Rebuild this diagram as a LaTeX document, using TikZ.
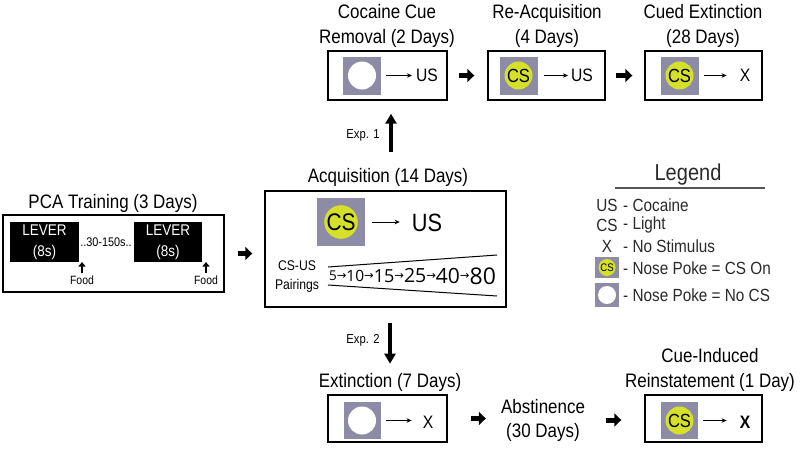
\documentclass[tikz,border=0pt]{standalone}
\usepackage{fontspec}
\setmainfont{Liberation Sans}[FakeStretch=0.87]
\newfontfamily\numf{Open Sans}
\newfontfamily\djv{DejaVu Sans}
\usetikzlibrary{arrows.meta}
\definecolor{pokegray}{HTML}{8D8BA6}
\definecolor{csyellow}{HTML}{D5E02A}
\definecolor{legtxt}{HTML}{2A2A2A}
\newcommand\fsz[1]{\fontsize{#1}{#1}\selectfont}
\newcommand\fszl[2]{\fontsize{#1}{#2}\selectfont}
\newcommand\vc[1]{$\vcenter{\hbox{#1}}$}
\newcommand\sarr{\vc{\djv\fsz{11.5}→}}
\newcommand\nm[2]{\vc{\numf\fsz{#1}#2}}
\begin{document}
\begin{tikzpicture}[x=1pt,y=-1pt,
  stagebox/.style={draw=black, line width=1.4pt, inner sep=0pt},
  txt/.style={inner sep=0pt, font=\fsz{18}},
  ttl/.style={inner sep=0pt, align=center, font=\fszl{19.5}{25}},
  pokesq/.style={fill=pokegray, inner sep=0pt, minimum width=#1, minimum height=#1},
  csdot/.style={circle, fill=csyellow, inner sep=0pt},
  nocs/.style={circle, fill=white, inner sep=0pt},
  leverbox/.style={fill=black, inner sep=0pt, minimum width=69pt, minimum height=40pt, text=white, align=center, font=\fszl{15.5}{21}},
  thinarr/.style={-{Stealth[length=5pt,width=4.5pt]}, line width=0.9pt},
  bigarr/.style={-{Triangle[length=7pt,width=13pt]}, line width=5pt},
  vbigarr/.style={-{Triangle[length=10pt,width=11pt]}, line width=4.5pt},
  smallarr/.style={-{Triangle[length=4.5pt,width=7pt]}, line width=2.5pt},
  small/.style={inner sep=0pt, font=\fsz{12.5}},
  legt/.style={inner sep=0pt, font=\fsz{17.6}, text=legtxt},
]
\useasboundingbox[fill=white] (0,0) rectangle (800,451);

% ---------- PCA training ----------
\node[stagebox, minimum width=221pt, minimum height=77pt] (pca) at (113.5,253.5) {};
\node[ttl] (pcat) at (113,203) {PCA Training (3 Days)};
\node[leverbox] (lev1) at (44.5,242) {LEVER\\(8s)};
\node[leverbox, minimum width=68pt] (lev2) at (168,242) {LEVER\\(8s)};
\node[small] (gap) at (106,242) {..30-150s..};
\node[inner sep=0pt, font=\fsz{12}] (food1) at (82,280) {Food};
\node[inner sep=0pt, font=\fsz{12}] (food2) at (206,280) {Food};
\coordinate (f1tip) at (82,262);
\coordinate (f2tip) at (206,262);
\draw[smallarr, shorten <=2pt] (food1.north) -- (f1tip);
\draw[smallarr, shorten <=2pt] (food2.north) -- (f2tip);

% ---------- Acquisition ----------
\node[stagebox, minimum width=241pt, minimum height=116pt] (acq) at (385.5,249) {};
\node[ttl] (acqt) at (388,177) {Acquisition (14 Days)};
\node[pokesq=48pt] (acqsq) at (341,222) {};
\node[csdot, minimum size=33pt, font=\fsz{24}] (acqcs) at (acqsq) {CS};
\node[inner sep=0pt, font=\fsz{25}] (acqus) at (427,223) {US};
\draw[thinarr, shorten <=7pt, shorten >=12pt] (acqsq.east) -- (acqsq.east -| acqus.west);
\node[inner sep=0pt, align=center, font=\fszl{14}{19}] (pair) at (297,277) {CS-US\\Pairings};
\draw[line width=1pt] (328,267) -- (497,255);
\draw[line width=1pt] (328,285) -- (497,296);
\node[inner sep=0pt] (seq) at (412.5,276) {\nm{13.5}{5}\sarr\nm{15.5}{10}\sarr\nm{18}{15}\sarr\nm{19.5}{25}\sarr\nm{21}{40}\sarr\nm{23}{80}};

\draw[bigarr, shorten <=13pt, shorten >=12pt] (pca.east) -- (pca.east -| acq.west);

% ---------- Top row (Exp. 1) ----------
\node[stagebox, minimum width=119pt, minimum height=49pt] (ccr) at (387.5,75.5) {};
\node[ttl] (ccrt) at (387,26) {Cocaine Cue\\Removal (2 Days)};
\node[pokesq=38pt] (ccrsq) at (362,75.5) {};
\node[nocs, minimum size=28pt] (ccrdot) at (ccrsq) {};
\node[txt] (ccrus) at (427,75) {US};
\draw[thinarr, shorten <=5pt, shorten >=4pt] (ccrsq.east) -- (ccrsq.east -| ccrus.west);

\node[stagebox, minimum width=117pt, minimum height=49pt] (reacq) at (546.5,75.5) {};
\node[ttl] (reacqt) at (547,26) {Re-Acquisition\\(4 Days)};
\node[pokesq=38pt] (reacqsq) at (518.5,75.5) {};
\node[csdot, minimum size=28pt, font=\fsz{19}] (reacqcs) at (reacqsq) {CS};
\node[txt] (reacqus) at (582,75) {US};
\draw[thinarr, shorten <=6pt, shorten >=3pt] (reacqsq.east) -- (reacqsq.east -| reacqus.west);

\node[stagebox, minimum width=117pt, minimum height=49pt] (cext) at (703.5,75.5) {};
\node[ttl] (cextt) at (703,26) {Cued Extinction\\(28 Days)};
\node[pokesq=38pt] (cextsq) at (679.5,75.5) {};
\node[csdot, minimum size=28pt, font=\fsz{19}] (cextcs) at (cextsq) {CS};
\node[txt] (cextx) at (745,75) {X};
\draw[thinarr, shorten <=5pt, shorten >=13pt] (cextsq.east) -- (cextsq.east -| cextx.west);

\draw[bigarr, shorten <=11pt, shorten >=13pt] (ccr.east) -- (ccr.east -| reacq.west);
\draw[bigarr, shorten <=10pt, shorten >=12pt] (reacq.east) -- (reacq.east -| cext.west);

\draw[vbigarr, shorten <=16pt, shorten >=13pt] ([xshift=3.5pt]acqt.north -| ccr.south) -- ([xshift=3.5pt]ccr.south);
\node[inner sep=0pt, font=\fsz{13}] (exp1) at (363,135) {Exp. 1};

% ---------- Bottom row (Exp. 2) ----------
\node[stagebox, minimum width=119pt, minimum height=47pt] (ext) at (387.5,418.5) {};
\node[ttl] (extt) at (390,382) {Extinction (7 Days)};
\node[pokesq=37pt] (extsq) at (362,420.5) {};
\node[nocs, minimum size=28pt] (extdot) at (extsq) {};
\node[txt] (extx) at (428,422) {X};
\draw[thinarr, shorten <=5pt, shorten >=11pt] (extsq.east) -- (extsq.east -| extx.west);

\coordinate (exp2top) at (390,323);
\draw[vbigarr, shorten >=9pt] (exp2top) -- (exp2top |- extt.north);
\node[inner sep=0pt, font=\fsz{13}] (exp2) at (363,340) {Exp. 2};

\node[ttl, font=\fszl{19.5}{24}] (abst) at (543,420) {Abstinence\\(30 Days)};

\node[stagebox, minimum width=117pt, minimum height=47pt] (rein) at (703.5,418.5) {};
\node[ttl] (reint) at (710,370) {Cue-Induced\\Reinstatement (1 Day)};
\node[pokesq=37pt] (reinsq) at (679.5,420.5) {};
\node[csdot, minimum size=28pt, font=\fsz{19}] (reincs) at (reinsq) {CS};
\node[txt, font=\bfseries\fsz{18}] (reinx) at (745,422) {X};
\draw[thinarr, shorten <=5pt, shorten >=13pt] (reinsq.east) -- (reinsq.east -| reinx.west);

\draw[bigarr, shorten <=23pt, shorten >=15pt] (ext.east) -- (ext.east -| abst.west);
\draw[bigarr, shorten <=21pt, shorten >=23pt] (abst.east) -- (abst.east -| rein.west);

% ---------- Legend ----------
\node[inner sep=0pt, font=\fsz{23}, text=legtxt] (legt) at (688,175) {Legend};
\coordinate (lul) at (615,188);
\coordinate (lur) at (765,188);
\draw[line width=1.2pt, draw=legtxt!80] (lul) -- (lur);
\node[legt] (l1a) at (607,205) {US};
\node[legt, anchor=west] (l1b) at (623,205) {- Cocaine};
\node[legt] (l2a) at (607,225) {CS};
\node[legt, anchor=west] (l2b) at (623,225) {- Light};
\node[legt] (l3a) at (607,246) {X};
\node[legt, anchor=west] (l3b) at (623,246) {- No Stimulus};
\node[fill=pokegray, inner sep=0pt, minimum width=24pt, minimum height=21pt] (l4sq) at (607,267.5) {};
\node[csdot, minimum size=17pt, font=\fsz{11}] (l4cs) at (l4sq) {CS};
\node[legt, anchor=west] (l4b) at (623,268) {- Nose Poke = CS On};
\node[fill=pokegray, inner sep=0pt, minimum width=24pt, minimum height=24pt] (l5sq) at (607,295) {};
\node[nocs, minimum size=18pt] (l5dot) at (l5sq) {};
\node[legt, anchor=west] (l5b) at (623,295) {- Nose Poke = No CS};
\end{tikzpicture}
\end{document}
